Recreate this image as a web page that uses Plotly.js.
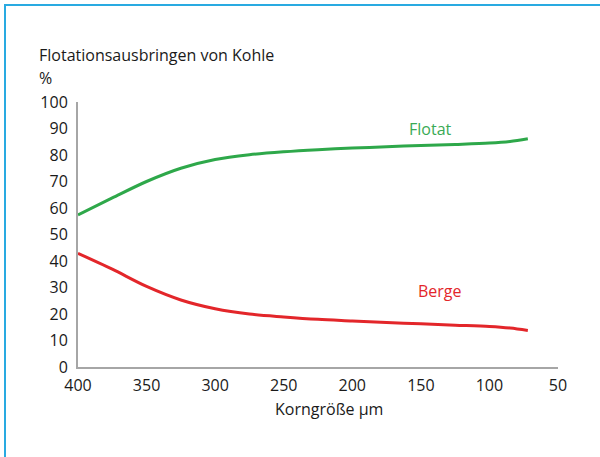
<!DOCTYPE html>
<html>
<head>
<meta charset="utf-8">
<script src="https://cdn.plot.ly/plotly-3.0.1.min.js"></script>
<style>
html,body{margin:0;padding:0;background:#fff;}
#wrap{position:relative;width:600px;height:457px;overflow:hidden;}
#chart{width:600px;height:457px;}
#frame{position:absolute;left:4px;top:4px;width:600px;height:460px;border-top:2px solid #29aae1;border-left:2px solid #29aae1;pointer-events:none;}
</style>
</head>
<body>
<div id="wrap"><div id="chart"></div><div id="frame"></div></div>
<script>
const grainX = [400, 375, 350, 325, 300, 275, 250, 225, 200, 175, 150, 125, 100, 85, 72];
const flotatY = [57.4, 63.8, 70.0, 75.0, 78.3, 80.1, 81.2, 82.0, 82.6, 83.1, 83.6, 84.0, 84.5, 85.1, 86.1];
const bergeY = [42.9, 36.9, 30.4, 25.3, 22.0, 20.0, 18.9, 18.0, 17.4, 16.8, 16.3, 15.8, 15.3, 14.7, 13.8];
const xTicks = [400, 350, 300, 250, 200, 150, 100, 50];
const yTicks = [0, 10, 20, 30, 40, 50, 60, 70, 80, 90, 100];

const FONT = "Open Sans, Noto Sans, sans-serif";
const GREEN = "#2ea84a";
const RED = "#e3262a";

const traces = [
  {x: grainX, y: flotatY, mode: "lines", line: {color: GREEN, width: 3, shape: "spline", smoothing: 0.9}, hoverinfo: "skip"},
  {x: grainX, y: bergeY, mode: "lines", line: {color: RED, width: 3, shape: "spline", smoothing: 0.9}, hoverinfo: "skip"}
];

const layout = {
  width: 600, height: 457,
  margin: {l: 78, r: 42, t: 102, b: 90},
  paper_bgcolor: "#fff", plot_bgcolor: "#fff",
  showlegend: false,
  font: {family: FONT, size: 16, color: "#1a1a1a"},
  xaxis: {
    range: [400, 50], tickvals: xTicks, ticktext: xTicks.map(String),
    showgrid: false, zeroline: false, showline: true, linecolor: "#a6a6a6", linewidth: 2,
    ticks: "", ticklabelstandoff: 3, tickfont: {family: FONT, size: 16, color: "#1a1a1a"}
  },
  yaxis: {
    range: [0, 100], tickvals: yTicks, ticktext: yTicks.map(String),
    showgrid: false, zeroline: false, showline: true, linecolor: "#a6a6a6", linewidth: 2,
    ticks: "", ticklabelstandoff: 5, tickfont: {family: FONT, size: 16, color: "#1a1a1a"}
  },
  annotations: [
    {text: "Flotationsausbringen von Kohle", xref: "paper", yref: "paper", x: -0.0854, y: 1.177, xanchor: "left", yanchor: "middle", showarrow: false, font: {family: FONT, size: 16, color: "#1a1a1a"}},
    {text: "%", xref: "paper", yref: "paper", x: -0.0854, y: 1.09, xanchor: "left", yanchor: "middle", showarrow: false, font: {family: FONT, size: 16, color: "#1a1a1a"}},
    {text: "Korngröße µm", xref: "paper", yref: "paper", x: 0.522, y: -0.158, xanchor: "center", yanchor: "middle", showarrow: false, font: {family: FONT, size: 16, color: "#1a1a1a"}},
    {text: "Flotat", x: 143, y: 90, xref: "x", yref: "y", showarrow: false, font: {family: FONT, size: 16, color: "#3aaa55"}},
    {text: "Berge", x: 136, y: 28.7, xref: "x", yref: "y", showarrow: false, font: {family: FONT, size: 16, color: RED}}
  ]
};

Plotly.newPlot("chart", traces, layout, {staticPlot: true, displayModeBar: false});
</script>
</body>
</html>
